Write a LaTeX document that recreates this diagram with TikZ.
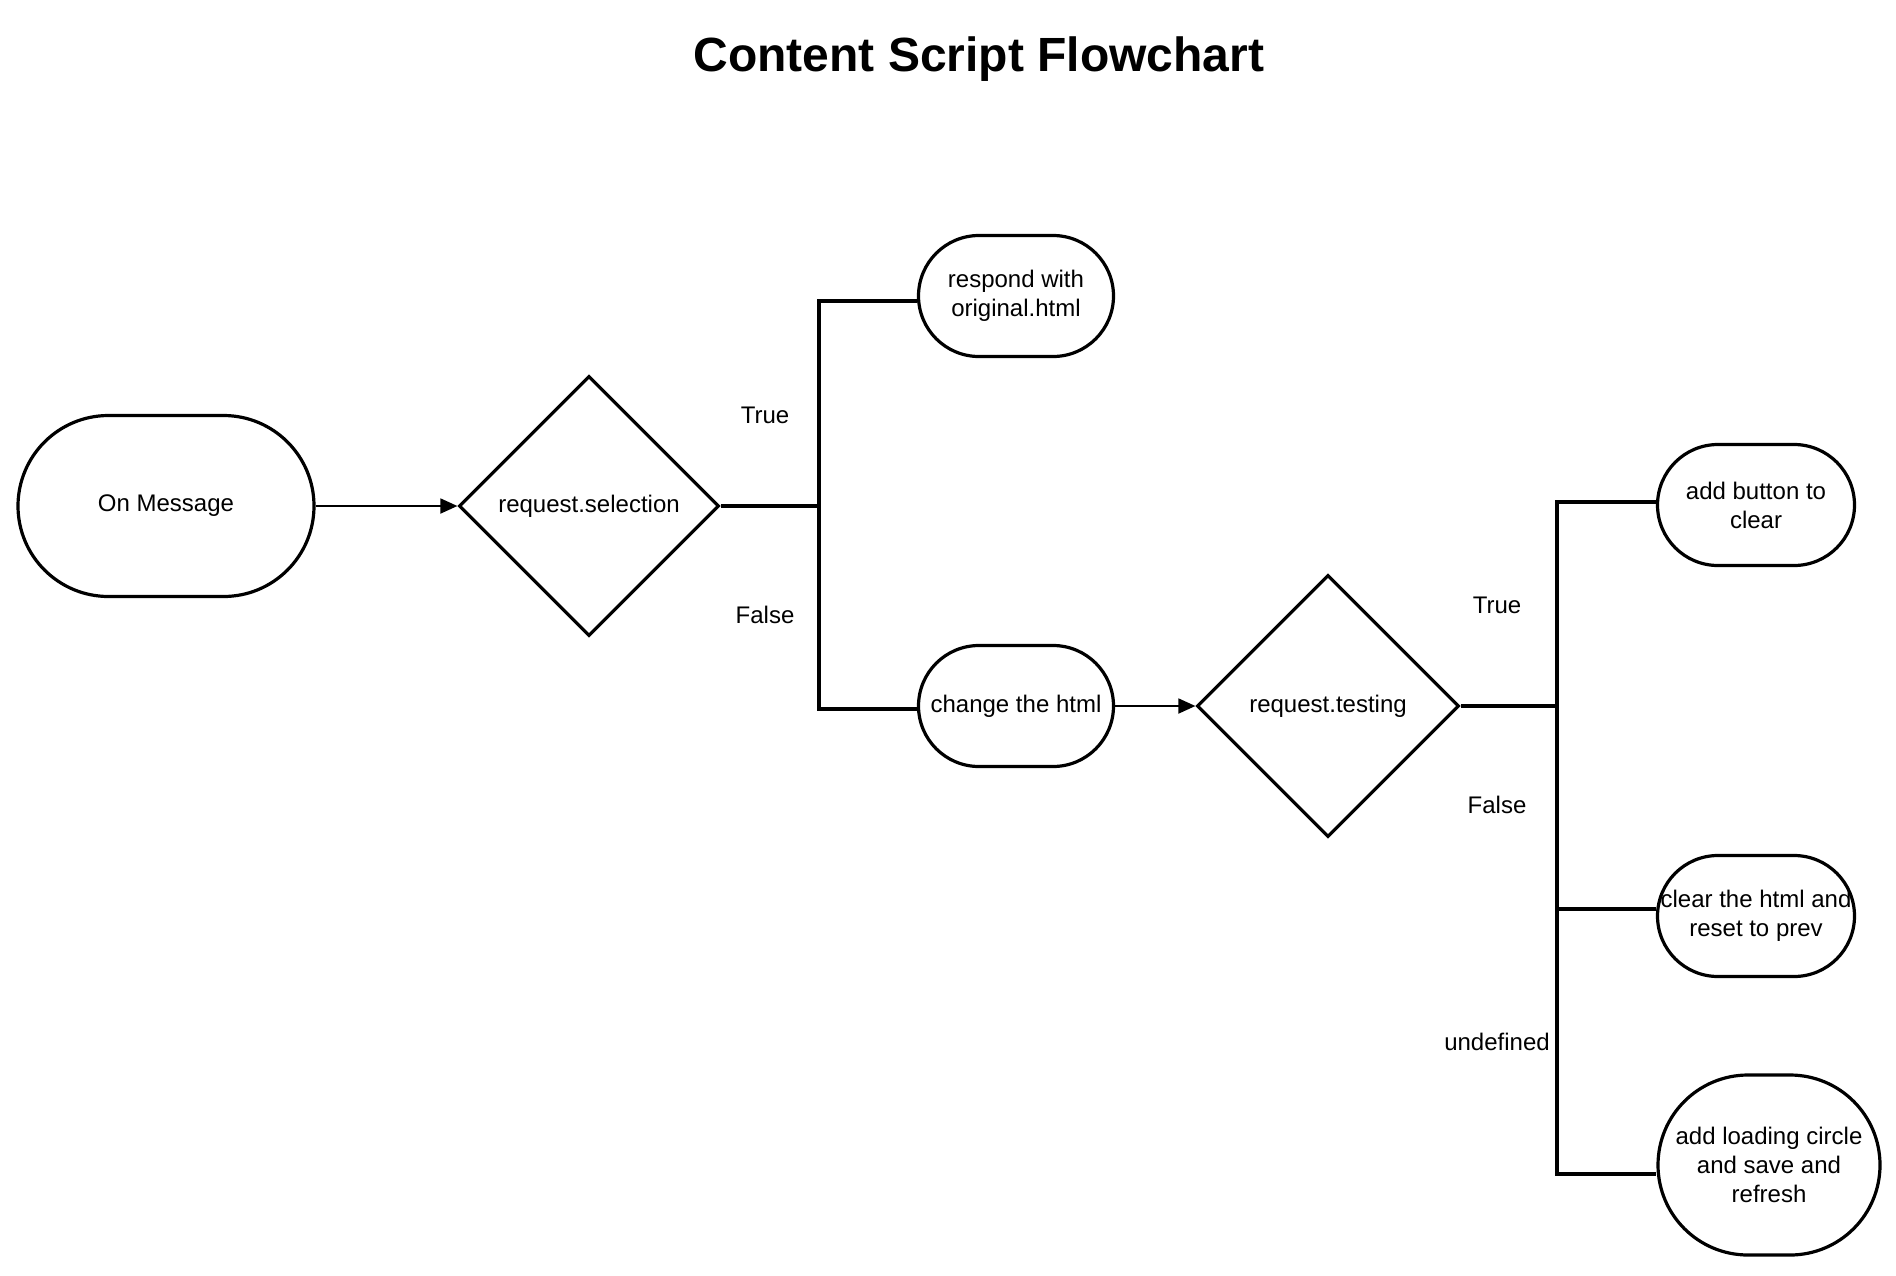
\documentclass[tikz,border=0pt]{standalone}
\usepackage{fontspec}
\setmainfont{Liberation Sans}
\usetikzlibrary{shapes.geometric,arrows.meta}
\tikzset{
  px/.style={x=0.5pt,y=-0.5pt},
  term/.style 2 args={draw=black,line width=1.6pt,rectangle,rounded corners=#2*0.25pt,
    minimum width=#1*0.5pt,minimum height=#2*0.5pt,inner sep=0pt,align=center,
    font=\fontsize{12}{14.5}\selectfont},
  decision/.style={draw=black,line width=1.6pt,diamond,minimum width=#1*0.5pt,
    minimum height=#1*0.5pt,inner sep=0pt,align=center,font=\fontsize{12}{14.5}\selectfont},
  branch/.style={line width=1.8pt,line join=miter},
  flow/.style={line width=0.9pt,-{Triangle[length=8.5pt,width=7.5pt]}},
  lbl/.style={font=\fontsize{12}{14.5}\selectfont,inner sep=0pt},
  ttl/.style={font=\fontsize{24}{28}\selectfont\bfseries,inner sep=0pt}
}
\begin{document}
\begin{tikzpicture}[px]
\useasboundingbox (0,0) rectangle (1896,1275);
\node[ttl] (title) at (979,59) {Content Script Flowchart};
\node[term={296}{181}] (msg) at (166,506) {On Message};
\node[decision=260] (sel) at (589,506) {request.selection};
\node[term={195}{121}] (resp) at (1016,296) {respond with\\original.html};
\node[term={195}{121}] (chg) at (1016,706) {change the html};
\node[decision=262] (tst) at (1328,706) {request.testing};
\node[term={197}{121}] (btn) at (1756,505) {add button to\\clear};
\node[term={197}{121}] (clr) at (1756,916) {clear the html and\\reset to prev};
\node[term={222}{180}] (load) at (1769,1165) {add loading circle\\and save and\\refresh};
\node[lbl] (t1) at (765,415) {True};
\node[lbl] (f1) at (765,615) {False};
\node[lbl] (t2) at (1497,605) {True};
\node[lbl] (f2) at (1497,805) {False};
\node[lbl] (u2) at (1497,1042) {undefined};
\coordinate (j1) at (819,506);
\coordinate (j1t) at (819,301);
\coordinate (j1b) at (819,709);
\coordinate (j2) at (1557,706);
\coordinate (j2t) at (1557,502);
\coordinate (j2m) at (1557,909);
\coordinate (j2b) at (1557,1174);
\draw[flow] (msg.east) -- (sel.west);
\draw[flow] (chg.east) -- (tst.west);
\draw[branch] (sel.east) -- (j1);
\draw[branch] (resp.west |- j1t) -- (j1t) -- (j1b) -- (chg.west |- j1b);
\draw[branch] (tst.east) -- (j2);
\draw[branch] (btn.west |- j2t) -- (j2t) -- (j2b) -- (load.west |- j2b);
\draw[branch] (j2m) -- (clr.west |- j2m);
\end{tikzpicture}
\end{document}
